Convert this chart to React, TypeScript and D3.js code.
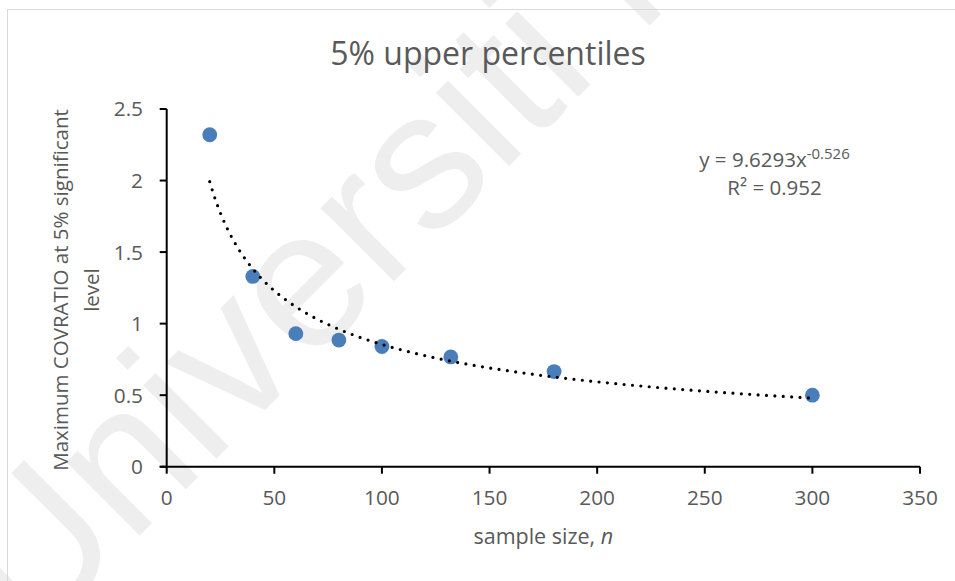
import React from 'react';
import * as d3 from 'd3';

// Sample sizes (n) and the maximum COVRATIO at the 5% level
const sampleSizes = [20, 40, 60, 80, 100, 132, 180, 300];
const maxCovratio = [2.32, 1.33, 0.93, 0.885, 0.84, 0.767, 0.665, 0.5];

const xTicks = [0, 50, 100, 150, 200, 250, 300, 350];
const yTicks = [0, 0.5, 1, 1.5, 2, 2.5];

// Power trendline y = a * x^b
const fitCoef = 9.6293;
const fitExp = -0.526;
const fitRSquared = 0.952;

const W = 955;
const H = 581;
const FONT = '"Open Sans", sans-serif';
const TEXT = '#595959';

export default function App() {
  const x = d3.scaleLinear().domain([0, 350]).range([166.7, 920]);
  const y = d3.scaleLinear().domain([0, 2.5]).range([466.7, 109]);

  const xMin = d3.min(sampleSizes) as number;
  const xMax = d3.max(sampleSizes) as number;
  const fitX = d3.range(xMin, xMax + 0.001, 1);
  const fitLine = d3
    .line<number>()
    .x((d) => x(d))
    .y((d) => y(fitCoef * Math.pow(d, fitExp)))
    .curve(d3.curveMonotoneX);

  const points = sampleSizes.map((n, i) => ({ n, v: maxCovratio[i] }));
  const eqX = 774.5;

  return (
    <svg
      width={W}
      height={H}
      style={{ position: 'absolute', left: 0, top: 0, background: '#fff' }}
      fontFamily={FONT}
    >
      <rect x={0} y={0} width={W} height={H} fill="#ffffff" />
      {/* faint diagonal watermark */}
      <text
        x={0}
        y={0}
        transform="translate(30,645) rotate(-45)"
        fontFamily='"Liberation Sans", Arial, sans-serif'
        fontSize={196}
        fill="#eeeeee"
      >
        Universiti Malaya
      </text>

      {/* chart area border */}
      <rect x={7.5} y={9.5} width={1200} height={1200} fill="none" stroke="#d9d9d9" strokeWidth={1} />

      <text x={488} y={65} textAnchor="middle" fontSize={32} fill={TEXT}>
        5% upper percentiles
      </text>

      {/* y axis */}
      <g>
        <line x1={x(0)} x2={x(0)} y1={y(0)} y2={y(2.5)} stroke="#000" strokeWidth={2} />
        {yTicks.map((t) => (
          <g key={t}>
            <line x1={x(0) - 7} x2={x(0)} y1={y(t)} y2={y(t)} stroke="#000" strokeWidth={2} />
            <text x={143} y={y(t)} dy="0.36em" textAnchor="end" fontSize={20.8} fill={TEXT}>
              {String(t)}
            </text>
          </g>
        ))}
      </g>

      {/* x axis */}
      <g>
        <line x1={x(0) - 7} x2={x(350)} y1={y(0)} y2={y(0)} stroke="#000" strokeWidth={2} />
        {xTicks.map((t) => (
          <g key={t}>
            <line x1={x(t)} x2={x(t)} y1={y(0)} y2={y(0) + 7} stroke="#000" strokeWidth={2} />
            <text x={x(t)} y={505} textAnchor="middle" fontSize={20.8} fill={TEXT}>
              {String(t)}
            </text>
          </g>
        ))}
      </g>

      <text x={543.3} y={544} textAnchor="middle" fontSize={21.5} fill={TEXT}>
        sample size, <tspan fontStyle="italic">n</tspan>
      </text>

      <g transform="rotate(-90)">
        <text x={-290} y={68.3} textAnchor="middle" fontSize={20.5} fill={TEXT}>
          Maximum COVRATIO at 5% significant
        </text>
        <text x={-290} y={99} textAnchor="middle" fontSize={20.5} fill={TEXT}>
          level
        </text>
      </g>

      {/* data points */}
      {points.map((p) => (
        <circle key={p.n} cx={x(p.n)} cy={y(p.v)} r={7.4} fill="#4a7ebb" />
      ))}

      {/* dotted power trendline */}
      <path
        d={fitLine(fitX) || ''}
        fill="none"
        stroke="#000"
        strokeWidth={3.2}
        strokeLinecap="round"
        strokeDasharray="0 8.4"
      />

      <text x={eqX} y={166.7} textAnchor="middle" fontSize={20.5} fill={TEXT}>
        {`y = ${fitCoef}x`}
        <tspan fontSize={15} dy={-8}>{String(fitExp)}</tspan>
      </text>
      <text x={eqX} y={195} textAnchor="middle" fontSize={20.5} fill={TEXT}>
        {`R² = ${fitRSquared}`}
      </text>
    </svg>
  );
}
